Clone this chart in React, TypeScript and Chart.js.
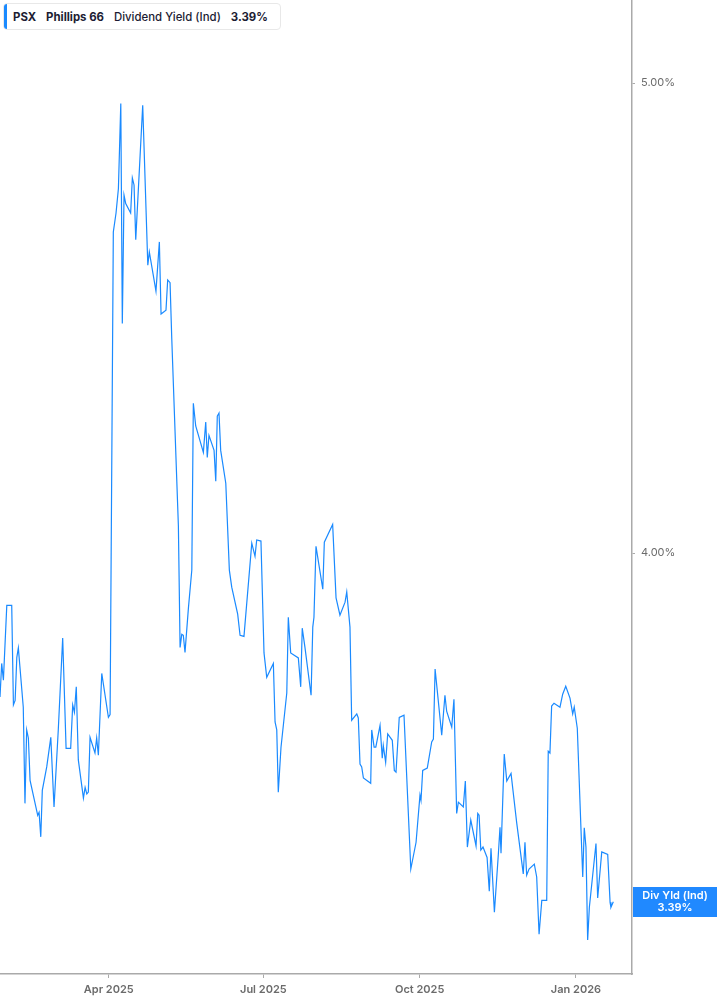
import React, { useEffect, useRef } from 'react';
import { Chart, registerables } from 'chart.js';

Chart.register(...registerables);

const ticker = 'PSX';
const company = 'Phillips 66';
const metric = 'Dividend Yield (Ind)';
const badgeLabel = 'Div Yld (Ind)';

// x = days since 2025-04-01
const days = [
  -64.0, -63.0, -62.0, -60.0, -57.1, -56.1, -55.1, -54.1, -53.2, -50.3,
  -49.3, -48.3, -47.3, -46.3, -41.8, -41.0, -40.0, -39.1, -36.5, -34.1,
  -32.2, -29.7, -27.1, -25.1, -22.4, -21.2, -20.2, -19.1, -17.9, -14.9,
  -13.9, -12.9, -12.0, -11.0, -8.1, -7.1, -6.1, -4.1, -0.2, 0.8,
  2.7, 4.3, 5.7, 7.1, 8.0, 9.0, 10.0, 12.9, 13.9, 14.9,
  15.9, 20.0, 23.0, 23.9, 27.8, 29.8, 30.8, 33.7, 34.7, 36.1,
  37.1, 41.0, 42.0, 43.0, 43.9, 44.9, 46.9, 48.9, 49.8, 51.2,
  55.7, 57.1, 58.0, 59.0, 62.0, 63.0, 63.9, 64.9, 65.9, 68.9,
  71.0, 72.4, 75.9, 77.3, 79.6, 84.2, 86.1, 87.1, 89.6, 91.4,
  93.0, 96.9, 97.9, 98.9, 99.8, 101.4, 104.8, 105.7, 107.1, 111.6,
  113.0, 113.9, 115.5, 119.1, 120.1, 120.8, 122.0, 126.0, 126.9, 131.8,
  133.8, 136.1, 139.1, 140.1, 142.0, 143.0, 146.0, 146.9, 147.9, 148.9,
  149.9, 154.2, 154.8, 156.2, 157.2, 159.7, 161.0, 161.6, 163.0, 164.2,
  166.9, 168.1, 169.1, 171.0, 173.8, 177.8, 180.9, 183.2, 183.8, 184.8,
  187.5, 190.1, 191.1, 192.1, 196.0, 197.9, 198.9, 201.9, 203.2, 204.8,
  205.8, 208.7, 209.9, 211.1, 213.1, 216.2, 217.2, 218.0, 219.0, 220.3,
  222.7, 224.0, 225.0, 227.0, 229.3, 230.3, 230.9, 232.8, 234.3, 236.8,
  240.1, 244.0, 245.0, 246.0, 247.4, 250.5, 251.9, 253.3, 254.9, 257.8,
  258.7, 259.7, 260.7, 262.1, 265.6, 267.2, 269.0, 271.5, 273.1, 274.0,
  275.8, 279.0, 279.9, 280.9, 281.9, 282.9, 286.8, 287.8, 290.2, 293.7,
  295.1, 295.6, 297.0,
];

const yields = [
  3.736, 3.796, 3.766, 3.902, 3.902, 3.722, 3.730, 3.807, 3.824, 3.718,
  3.552, 3.678, 3.664, 3.591, 3.532, 3.537, 3.496, 3.574, 3.614, 3.665,
  3.546, 3.678, 3.842, 3.646, 3.646, 3.722, 3.709, 3.754, 3.626, 3.561,
  3.579, 3.568, 3.571, 3.665, 3.638, 3.664, 3.634, 3.778, 3.700, 3.705,
  4.659, 4.701, 4.756, 4.952, 4.461, 4.741, 4.722, 4.701, 4.780, 4.764,
  4.642, 4.948, 4.586, 4.615, 4.530, 4.637, 4.481, 4.489, 4.554, 4.548,
  4.429, 4.052, 3.825, 3.849, 3.847, 3.816, 3.897, 3.968, 4.295, 4.249,
  4.196, 4.257, 4.186, 4.230, 4.200, 4.139, 4.269, 4.275, 4.200, 4.135,
  3.968, 3.936, 3.886, 3.847, 3.845, 4.019, 3.994, 4.025, 4.023, 3.815,
  3.771, 3.796, 3.692, 3.678, 3.571, 3.648, 3.743, 3.880, 3.815, 3.806,
  3.754, 3.860, 3.825, 3.739, 3.862, 3.880, 4.013, 3.932, 4.021, 4.055,
  3.916, 3.884, 3.908, 3.927, 3.862, 3.695, 3.706, 3.699, 3.619, 3.614,
  3.595, 3.586, 3.678, 3.648, 3.648, 3.686, 3.629, 3.651, 3.622, 3.671,
  3.660, 3.608, 3.605, 3.700, 3.704, 3.443, 3.487, 3.566, 3.557, 3.608,
  3.612, 3.657, 3.662, 3.786, 3.669, 3.739, 3.711, 3.683, 3.732, 3.535,
  3.554, 3.546, 3.590, 3.479, 3.524, 3.481, 3.535, 3.532, 3.474, 3.479,
  3.462, 3.407, 3.477, 3.373, 3.466, 3.512, 3.469, 3.636, 3.590, 3.603,
  3.520, 3.435, 3.487, 3.433, 3.443, 3.451, 3.430, 3.338, 3.392, 3.392,
  3.641, 3.638, 3.720, 3.725, 3.718, 3.741, 3.755, 3.734, 3.706, 3.718,
  3.681, 3.430, 3.511, 3.479, 3.329, 3.381, 3.485, 3.396, 3.471, 3.467,
  3.389, 3.381, 3.390,
];

const xTickDays = [0, 91, 183, 275];
const xTickLabels = ['Apr 2025', 'Jul 2025', 'Oct 2025', 'Jan 2026'];
const yTickValues = [4, 5];
const xMin = -64;
const xMax = 308;
const yMin = 3.2756;
const yMax = 5.2013;

const LINE_COLOR = '#1a8aff';
const AXIS_COLOR = '#aaaaaa';
const FONT = 'Inter, "Noto Sans", sans-serif';

const lastValue = yields[yields.length - 1];

const badgePlugin = {
  id: 'badgePlugin',
  afterDraw(chart: any) {
    const { ctx, chartArea } = chart;
    const ys = chart.scales.y;
    const py = ys.getPixelForValue(lastValue);
    const left = chartArea.right + 1;
    const w = chart.width - left;
    ctx.save();
    ctx.fillStyle = '#2089ff';
    ctx.fillRect(left, Math.round(py) - 15, w, 30);
    ctx.fillStyle = '#ffffff';
    ctx.font = `600 11px ${FONT}`;
    ctx.textAlign = 'center';
    ctx.textBaseline = 'middle';
    ctx.fillText(badgeLabel, left + w / 2, py - 6);
    ctx.fillText(lastValue.toFixed(2) + '%', left + w / 2, py + 6);
    ctx.restore();
  },
};

function zeroPad(s: any) {
  s.paddingLeft = 0;
  s.paddingRight = 0;
  s.paddingTop = 0;
  s.paddingBottom = 0;
}

export default function App() {
  const canvasRef = useRef<HTMLCanvasElement | null>(null);

  useEffect(() => {
    const canvas = canvasRef.current;
    if (!canvas) return;
    const chart = new Chart(canvas, {
      type: 'line',
      data: {
        datasets: [
          {
            data: days.map((d, i) => ({ x: d, y: yields[i] })),
            borderColor: LINE_COLOR,
            borderWidth: 1.2,
            pointRadius: 0,
            tension: 0,
            fill: false,
          },
        ],
      },
      options: {
        responsive: false,
        animation: false,
        maintainAspectRatio: false,
        layout: { padding: 0 },
        plugins: {
          legend: { display: false },
          tooltip: { enabled: false },
        },
        scales: {
          x: {
            type: 'linear',
            min: xMin,
            max: xMax,
            afterBuildTicks: (s: any) => {
              s.ticks = xTickDays.map((v) => ({ value: v }));
            },
            afterFit: (s: any) => {
              s.height = 31;
              zeroPad(s);
            },
            ticks: {
              autoSkip: false,
              maxRotation: 0,
              padding: 5,
              color: '#6b6b6b',
              font: { family: FONT, size: 11, weight: '600' },
              callback: (v: any) => {
                const i = xTickDays.indexOf(Number(v));
                return i >= 0 ? xTickLabels[i] : '';
              },
            },
            grid: {
              drawOnChartArea: false,
              drawTicks: true,
              tickLength: 4,
              color: AXIS_COLOR,
            },
            border: { display: true, color: AXIS_COLOR, width: 1.5 },
          },
          y: {
            type: 'logarithmic',
            position: 'right',
            min: yMin,
            max: yMax,
            afterBuildTicks: (s: any) => {
              s.ticks = yTickValues.map((v) => ({ value: v }));
            },
            afterFit: (s: any) => {
              s.width = 85;
              zeroPad(s);
            },
            ticks: {
              autoSkip: false,
              padding: 6,
              color: '#6b6b6b',
              font: { family: FONT, size: 11 },
              callback: (v: any) => Number(v).toFixed(2) + '%',
            },
            grid: {
              drawOnChartArea: false,
              drawTicks: true,
              tickLength: 3,
              color: AXIS_COLOR,
            },
            border: { display: true, color: AXIS_COLOR, width: 1.5 },
          },
        },
      } as any,
      plugins: [badgePlugin],
    });
    return () => chart.destroy();
  }, []);

  return (
    <div
      style={{
        position: 'absolute',
        left: 0,
        top: 0,
        width: 717,
        height: 1005,
        overflow: 'hidden',
        background: '#ffffff',
      }}
    >
      <canvas ref={canvasRef} width={717} height={1005} style={{ display: 'block' }} />
      <div
        style={{
          position: 'absolute',
          left: 3,
          top: 3,
          width: 278,
          height: 27,
          boxSizing: 'border-box',
          border: '1px solid #e8e8e8',
          borderRadius: 4,
          background: '#ffffff',
          display: 'flex',
          alignItems: 'center',
          paddingLeft: 9,
          fontFamily: FONT,
          fontSize: 11.4,
          color: '#1c1c33',
          whiteSpace: 'nowrap',
        }}
      >
        <div
          style={{
            position: 'absolute',
            left: 0,
            top: 0,
            width: 3,
            height: 25,
            background: LINE_COLOR,
            borderRadius: '3px 0 0 3px',
          }}
        />
        <span style={{ fontWeight: 700 }}>{ticker}</span>
        <span style={{ fontWeight: 700, marginLeft: 10 }}>{company}</span>
        <span style={{ fontWeight: 500, marginLeft: 10 }}>{metric}</span>
        <span style={{ fontWeight: 700, marginLeft: 10 }}>{lastValue.toFixed(2)}%</span>
      </div>
    </div>
  );
}
